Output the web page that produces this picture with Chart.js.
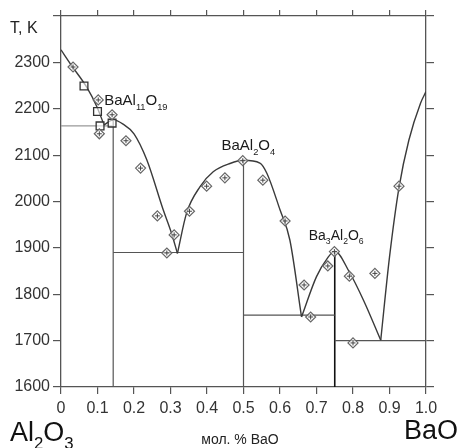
<!DOCTYPE html>
<html><head><meta charset="utf-8">
<script src="https://cdn.jsdelivr.net/npm/chart.js@4.4.0/dist/chart.umd.min.js"></script>
<style>html,body{margin:0;padding:0;background:#fff}#wrap{width:459px;height:448px;position:relative}</style>
</head><body><div id="wrap"><canvas id="c" width="459" height="448"></canvas></div>
<script>
// ---- axis ticks ----
const xTickValues = [0, 0.1, 0.2, 0.3, 0.4, 0.5, 0.6, 0.7, 0.8, 0.9, 1.0];
const xTickLabels = ['0', '0.1', '0.2', '0.3', '0.4', '0.5', '0.6', '0.7', '0.8', '0.9', '1.0'];
const yTickValues = [1600, 1700, 1800, 1900, 2000, 2100, 2200, 2300, 2400];
const yTickLabels = ['1600', '1700', '1800', '1900', '2000', '2100', '2200', '2300', ''];

// ---- liquidus branches (x = mole fraction BaO, T in K) ----
const liqAx = [0, 0.03, 0.07, 0.098, 0.118];
const liqAy = [2327, 2292, 2247, 2205, 2165];
const liqBx = [0.118, 0.143, 0.17, 0.2, 0.235, 0.28, 0.303, 0.319];
const liqBy = [2165, 2176, 2167, 2146, 2090, 1982, 1931, 1888];
const liqCx = [0.319, 0.344, 0.381, 0.417, 0.463, 0.5, 0.545, 0.564, 0.6, 0.627, 0.659];
const liqCy = [1888, 1975, 2032, 2064, 2082, 2089, 2083, 2061, 1982, 1917, 1751];
const liqDx = [0.659, 0.70, 0.73, 0.75, 0.79, 0.83, 0.876];
const liqDy = [1751, 1838, 1878, 1893, 1848, 1785, 1701];
const liqEx = [0.876, 0.90, 0.926, 0.953, 0.985, 1.0];
const liqEy = [1701, 1880, 2030, 2132, 2212, 2237];

// ---- invariant (horizontal) lines ----
const invT = [2163, 1890, 1755, 1700];
const invFrom = [0, 0.143, 0.5, 0.75];
const invTo = [0.143, 0.5, 0.75, 1.0];

// ---- compounds (vertical lines) ----
const compX = [0.143, 0.5, 0.75];
const compTop = [2180, 2089, 1893];
const compNames = [
  [['BaAl', 0], ['11', 1], ['O', 0], ['19', 1]],
  [['BaAl', 0], ['2', 1], ['O', 0], ['4', 1]],
  [['Ba', 0], ['3', 1], ['Al', 0], ['2', 1], ['O', 0], ['6', 1]]
];

// ---- experimental points ----
const diamondX = [0.033, 0.102, 0.105, 0.14, 0.178, 0.218, 0.264, 0.29, 0.31, 0.352, 0.399, 0.449, 0.498, 0.553, 0.614, 0.666, 0.684, 0.731, 0.749, 0.79, 0.80, 0.86, 0.926];
const diamondT = [2290, 2219, 2146, 2187, 2131, 2072, 1969, 1889, 1928, 1979, 2033, 2051, 2088, 2046, 1958, 1820, 1751, 1861, 1892, 1839, 1695, 1845, 2033];
const squareX = [0.063, 0.10, 0.107, 0.14];
const squareT = [2249, 2194, 2163, 2169];

const FONT = '"Liberation Sans", Arial, Helvetica, sans-serif';
const pts = (xs, ys) => xs.map((x, i) => ({x: x, y: ys[i]}));

const datasets = [];
datasets.push({data: pts(diamondX, diamondT), pointStyle: 'cross', pointRadius: 2.5, borderColor: '#444', borderWidth: 1, showLine: false, order: 0});
datasets.push({data: pts(diamondX, diamondT), pointStyle: 'rectRot', pointRadius: 5, borderColor: '#666', backgroundColor: 'rgba(255,255,255,0.6)', borderWidth: 1.2, showLine: false, order: 1});
datasets.push({data: pts(squareX, squareT), pointStyle: 'rect', pointRadius: 5.5, borderColor: '#333', backgroundColor: 'rgba(255,255,255,0.6)', borderWidth: 1.3, showLine: false, order: 1});
[[liqAx, liqAy], [liqBx, liqBy], [liqCx, liqCy], [liqDx, liqDy], [liqEx, liqEy]].forEach(b => {
  datasets.push({data: pts(b[0], b[1]), showLine: true, cubicInterpolationMode: 'monotone', borderColor: '#3a3a3a', borderWidth: 1.4, pointRadius: 0, order: 2});
});
invT.forEach((t, i) => {
  datasets.push({data: [{x: invFrom[i], y: t}, {x: invTo[i], y: t}], showLine: true, borderColor: i === 0 ? '#999' : '#555', borderWidth: 1.1, pointRadius: 0, order: 3});
});
compX.forEach((x, i) => {
  datasets.push({data: [{x: x, y: 1600}, {x: x, y: compTop[i]}], showLine: true, borderColor: i === 2 ? '#111' : '#555', borderWidth: i === 2 ? 1.6 : 1.2, pointRadius: 0, order: 3});
});

function drawFormula(ctx, parts, x, y, size, color) {
  let cx = x;
  ctx.fillStyle = color || '#1a1a1a';
  ctx.textBaseline = 'alphabetic';
  ctx.textAlign = 'left';
  for (const [t, sub] of parts) {
    const s = sub ? size * 0.62 : size;
    ctx.font = s + 'px ' + FONT;
    ctx.fillText(t, cx, sub ? y + size * 0.3 : y);
    cx += ctx.measureText(t).width;
  }
}

const annot = {
  id: 'annot',
  afterDraw(chart) {
    const ctx = chart.ctx, xs = chart.scales.x, ys = chart.scales.y;
    ctx.save();
    drawFormula(ctx, [['T, K', 0]], 10, 33, 16, '#222');
    const offs = [[-9, -13, 15], [-22, -10, 15], [-26, -11, 14]];
    compX.forEach((x, i) => {
      drawFormula(ctx, compNames[i], xs.getPixelForValue(x) + offs[i][0], ys.getPixelForValue(compTop[i]) + offs[i][1], offs[i][2], '#1a1a1a');
    });
    drawFormula(ctx, [['Al', 0], ['2', 1], ['O', 0], ['3', 1]], 10, 441, 27, '#111');
    ctx.font = '27px ' + FONT;
    ctx.textAlign = 'right';
    ctx.fillStyle = '#111';
    ctx.fillText('BaO', 458, 439);
    ctx.font = '14px ' + FONT;
    ctx.textAlign = 'center';
    ctx.fillStyle = '#222';
    ctx.fillText('мол. % BaO', 240, 444);
    ctx.restore();
  }
};

const axisColor = '#555';
new Chart(document.getElementById('c'), {
  type: 'scatter',
  data: {datasets: datasets},
  options: {
    responsive: false,
    animation: false,
    devicePixelRatio: 1,
    layout: {padding: 0},
    plugins: {legend: {display: false}, tooltip: {enabled: false}},
    scales: {
      x: {
        type: 'linear', position: 'bottom', min: 0, max: 1,
        afterBuildTicks: s => { s.ticks = xTickValues.map(v => ({value: v})); },
        afterFit: s => { s.height = 61; },
        ticks: {callback: (v, i) => xTickLabels[i], color: '#333', font: {family: FONT, size: 16}, padding: 5, maxRotation: 0, autoSkip: false},
        grid: {drawOnChartArea: false, drawTicks: true, tickLength: 7, color: axisColor, lineWidth: 1.2},
        border: {display: true, color: axisColor, width: 1.3}
      },
      x2: {
        type: 'linear', position: 'top', min: 0, max: 1,
        afterBuildTicks: s => { s.ticks = xTickValues.map(v => ({value: v})); },
        afterFit: s => { s.height = 16; },
        ticks: {display: false},
        grid: {drawOnChartArea: false, drawTicks: true, tickLength: 6, color: axisColor, lineWidth: 1.2},
        border: {display: true, color: axisColor, width: 1.3}
      },
      y: {
        type: 'linear', position: 'left', min: 1600, max: 2400,
        afterBuildTicks: s => { s.ticks = yTickValues.map(v => ({value: v})); },
        afterFit: s => { s.width = 61; },
        ticks: {callback: (v, i) => yTickLabels[i], color: '#333', font: {family: FONT, size: 16}, padding: 3, autoSkip: false},
        grid: {drawOnChartArea: false, drawTicks: true, tickLength: 8, color: axisColor, lineWidth: 1.2},
        border: {display: true, color: axisColor, width: 1.3}
      },
      y2: {
        type: 'linear', position: 'right', min: 1600, max: 2400,
        afterBuildTicks: s => { s.ticks = yTickValues.map(v => ({value: v})); },
        afterFit: s => { s.width = 33; },
        ticks: {display: false},
        grid: {drawOnChartArea: false, drawTicks: true, tickLength: 8, color: axisColor, lineWidth: 1.2},
        border: {display: true, color: axisColor, width: 1.3}
      }
    }
  },
  plugins: [annot]
});
</script>
</body></html>
